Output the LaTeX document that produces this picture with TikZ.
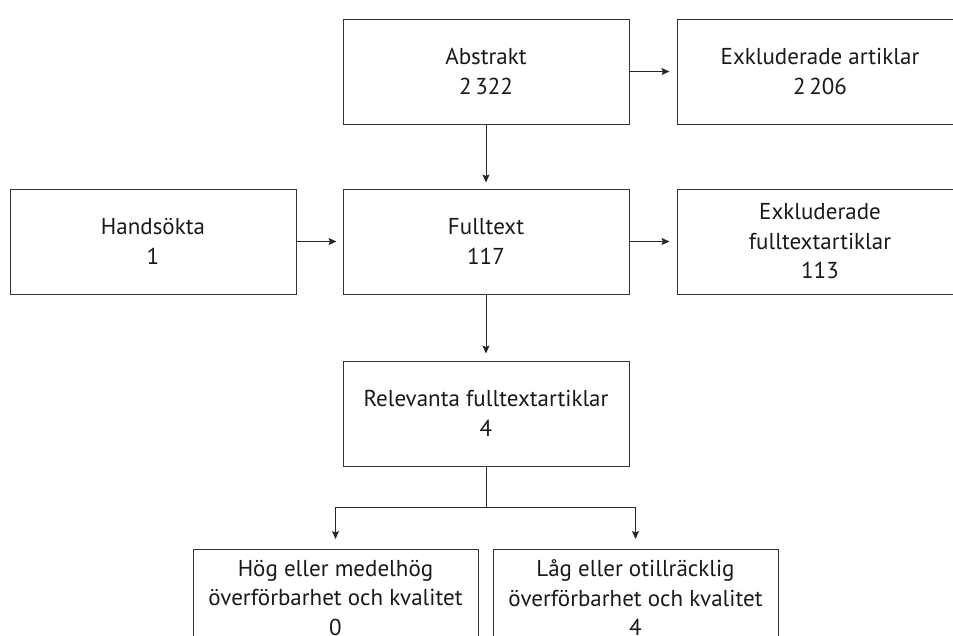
\documentclass[tikz,border=0pt]{standalone}
\usepackage{fontspec}
\setmainfont{PT Sans}
\usetikzlibrary{arrows.meta}
\begin{document}
\begin{tikzpicture}[x=1pt,y=1pt,
  box/.style={draw=black!80, line width=1pt, rectangle, minimum width=286pt, minimum height=105pt,
    align=center, inner sep=0pt, font=\fontsize{23}{29.5}\selectfont, text=black!90},
  arr/.style={draw=black!85, line width=0.9pt, -{Stealth[length=8pt,width=7pt,inset=1.5pt]}},
  ln/.style={draw=black!85, line width=0.9pt}]
\useasboundingbox (0,0) rectangle (953,-635);
\node[box] (abs) at (486,-71.5) {Abstrakt\\2\,322};
\node[box] (exa) at (820,-71.5) {Exkluderade artiklar\\2\,206};
\node[box] (hand) at (153,-241.5) {Handsökta\\1};
\node[box] (full) at (486,-241.5) {Fulltext\\117};
\node[box] (exf) at (820,-241.5) {Exkluderade\\fulltextartiklar\\113};
\node[box] (rel) at (486,-413.5) {Relevanta fulltextartiklar\\4};
\node[box, minimum width=285pt, minimum height=97pt, anchor=north] (hog) at (335.5,-549) {Hög eller medelhög\\överförbarhet och kvalitet\\0};
\node[box, minimum width=285pt, minimum height=97pt, anchor=north] (lag) at (635.5,-549) {Låg eller otillräcklig\\överförbarhet och kvalitet\\4};
\draw[draw=black!80, line width=1pt] (hog.south west) -- ++(0,-12) (hog.south east) -- ++(0,-12)
  (lag.south west) -- ++(0,-12) (lag.south east) -- ++(0,-12);
\coordinate (br) at (486,-507);
\draw[arr, shorten >=7pt] (abs.east) -- (exa.west);
\draw[arr, shorten >=6pt] (abs.south) -- (full.north);
\draw[arr, shorten >=6pt] (hand.east) -- (full.west);
\draw[arr, shorten >=7pt] (full.east) -- (exf.west);
\draw[arr, shorten >=7pt] (full.south) -- (rel.north);
\draw[ln] (rel.south) -- (br);
\draw[arr, shorten >=10pt] (br) -| (hog.north);
\draw[arr, shorten >=10pt] (br) -| (lag.north);
\end{tikzpicture}
\end{document}
